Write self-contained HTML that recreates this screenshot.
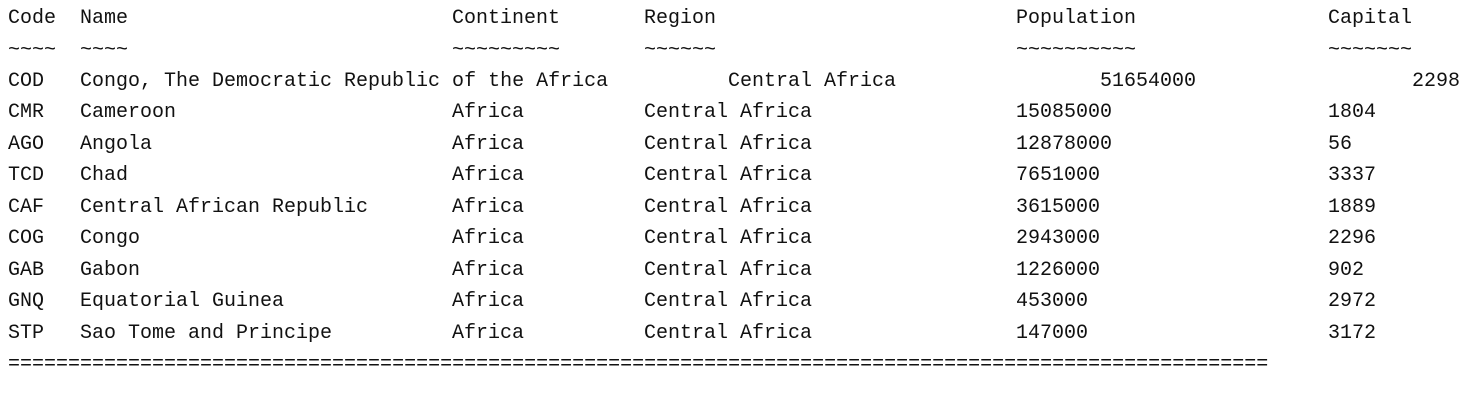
<!DOCTYPE html>
<html><head><meta charset="utf-8"><style>
html,body{margin:0;padding:0;background:#fff;width:1463px;height:417px;overflow:hidden}
.t{position:relative;width:1463px;height:417px;font-family:"Liberation Mono",monospace;font-size:20px;color:#111}
.r{position:absolute;left:0;width:1463px;height:31px}
.r span{position:absolute;top:0;white-space:pre;line-height:31px}
</style></head><body>
<div class="t">
<div class="r" style="top:3px">
<span style="left:8px">Code</span><span style="left:80px">Name</span><span style="left:452px">Continent</span><span style="left:644px">Region</span><span style="left:1016px">Population</span><span style="left:1328px">Capital</span></div>
<div class="r" style="top:35px">
<span style="left:8px">~~~~</span><span style="left:80px">~~~~</span><span style="left:452px">~~~~~~~~~</span><span style="left:644px">~~~~~~</span><span style="left:1016px">~~~~~~~~~~</span><span style="left:1328px">~~~~~~~</span></div>
<div class="r" style="top:66px">
<span style="left:8px">COD</span><span style="left:80px">Congo, The Democratic Republic of the Africa</span><span style="left:728px">Central Africa</span><span style="left:1100px">51654000</span><span style="left:1412px">2298</span></div>
<div class="r" style="top:97px">
<span style="left:8px">CMR</span><span style="left:80px">Cameroon</span><span style="left:452px">Africa</span><span style="left:644px">Central Africa</span><span style="left:1016px">15085000</span><span style="left:1328px">1804</span></div>
<div class="r" style="top:129px">
<span style="left:8px">AGO</span><span style="left:80px">Angola</span><span style="left:452px">Africa</span><span style="left:644px">Central Africa</span><span style="left:1016px">12878000</span><span style="left:1328px">56</span></div>
<div class="r" style="top:160px">
<span style="left:8px">TCD</span><span style="left:80px">Chad</span><span style="left:452px">Africa</span><span style="left:644px">Central Africa</span><span style="left:1016px">7651000</span><span style="left:1328px">3337</span></div>
<div class="r" style="top:192px">
<span style="left:8px">CAF</span><span style="left:80px">Central African Republic</span><span style="left:452px">Africa</span><span style="left:644px">Central Africa</span><span style="left:1016px">3615000</span><span style="left:1328px">1889</span></div>
<div class="r" style="top:223px">
<span style="left:8px">COG</span><span style="left:80px">Congo</span><span style="left:452px">Africa</span><span style="left:644px">Central Africa</span><span style="left:1016px">2943000</span><span style="left:1328px">2296</span></div>
<div class="r" style="top:255px">
<span style="left:8px">GAB</span><span style="left:80px">Gabon</span><span style="left:452px">Africa</span><span style="left:644px">Central Africa</span><span style="left:1016px">1226000</span><span style="left:1328px">902</span></div>
<div class="r" style="top:286px">
<span style="left:8px">GNQ</span><span style="left:80px">Equatorial Guinea</span><span style="left:452px">Africa</span><span style="left:644px">Central Africa</span><span style="left:1016px">453000</span><span style="left:1328px">2972</span></div>
<div class="r" style="top:318px">
<span style="left:8px">STP</span><span style="left:80px">Sao Tome and Principe</span><span style="left:452px">Africa</span><span style="left:644px">Central Africa</span><span style="left:1016px">147000</span><span style="left:1328px">3172</span></div>
<div class="r" style="top:349px">
<span style="left:8px">=========================================================================================================</span></div>
</div>
</body></html>
